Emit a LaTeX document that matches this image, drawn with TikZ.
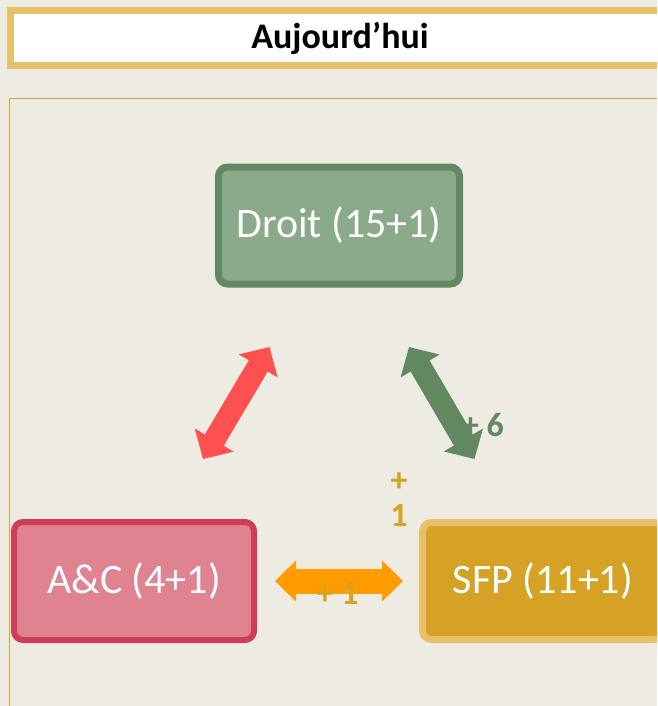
\documentclass[tikz,border=0pt]{standalone}
\usepackage{fontspec}
\setmainfont{Carlito}
\usetikzlibrary{arrows.meta}

\definecolor{pagebg}{HTML}{EEEBE3}
\definecolor{titleline}{HTML}{E6C06A}
\definecolor{frameline}{HTML}{D4A437}
\definecolor{droitfill}{HTML}{8BAA8B}
\definecolor{droitline}{HTML}{628862}
\definecolor{acfill}{HTML}{E08391}
\definecolor{acline}{HTML}{D13C57}
\definecolor{sfpfill}{HTML}{D6A226}
\definecolor{sfpline}{HTML}{E6BF68}
\definecolor{redarrow}{HTML}{FF5050}
\definecolor{orangearrow}{HTML}{FF9C00}
\definecolor{goldtext}{HTML}{D6A226}

\tikzset{
  unitbox/.style={rectangle, rounded corners=9pt, line width=7pt,
    minimum width=241pt, minimum height=117pt, inner sep=0pt,
    text=white, font=\fontsize{42}{50}\selectfont},
  fatarrow/.style={line width=22pt,
    {Triangle[length=22pt,width=44pt]}-{Triangle[length=22pt,width=44pt]}},
  widearrow/.style={line width=25pt,
    {Triangle[length=21pt,width=40pt]}-{Triangle[length=21pt,width=40pt]}},
  gainlabel/.style={inner sep=0pt, font=\fontsize{34}{35}\selectfont\bfseries},
}

\begin{document}
\begin{tikzpicture}[x=1pt,y=-1pt]
  % page area and background
  \useasboundingbox (0,0) rectangle (657,706);
  \clip (0,0) rectangle (657,706);
  \fill[pagebg] (0,0) rectangle (657,706);

  % title banner
  \node[draw=titleline, fill=white, line width=7pt, rectangle, inner sep=0pt,
        minimum width=663pt, minimum height=55pt] (title) at (342,38) {};
  \node[font=\fontsize{36}{40}\selectfont\bfseries, inner sep=0pt] (titletext) at (340,38) {Aujourd’hui};

  % content frame
  \draw[frameline, line width=1.8pt] (9.5,720) -- (9.5,98.5) -- (700,98.5);

  % units
  \node[unitbox, draw=droitline, fill=droitfill] (droit) at (339,225.5) {Droit (15+1)};
  \node[unitbox, draw=acline, fill=acfill, line width=6pt, minimum width=240pt, minimum height=118pt] (ac) at (134,581) {A\&C (4+1)};
  \node[unitbox, draw=sfpline, fill=sfpfill] (sfp) at (543,581) {SFP (11+1)};

  % arrow end points
  \coordinate (ac-up)    at (203,459);
  \coordinate (droit-l)  at (269.5,347);
  \coordinate (droit-r)  at (409,347);
  \coordinate (sfp-up)   at (474.5,459);
  \coordinate (ac-r)     at (275,581);
  \coordinate (sfp-l)    at (403,581);

  % gain between Droit and SFP (partly covered by its arrow)
  \node[gainlabel, text=droitline] (gain-ds) at (483,425) {+ 6};

  % links
  \draw[redarrow, fatarrow] (ac-up) -- (droit-l);
  \draw[droitline, fatarrow] (droit-r) -- (sfp-up);
  \draw[orangearrow, widearrow] (ac-r) -- (sfp-l);

  % other gains
  \node[gainlabel, text=goldtext, align=center] (gain-sfp) at (399,500) {+\\1};
  \node[gainlabel, text=goldtext] (gain-as) at (337.5,593) {+ 1};
\end{tikzpicture}
\end{document}
